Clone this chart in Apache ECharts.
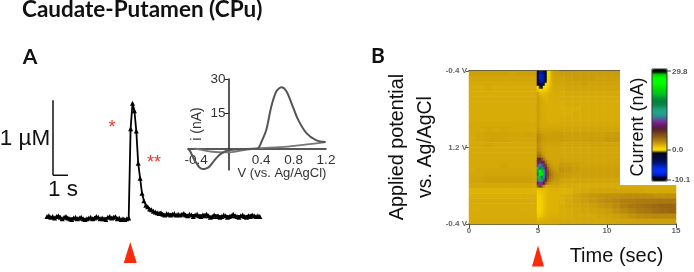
<!DOCTYPE html>
<html><head><meta charset="utf-8">
<style>html,body{margin:0;padding:0;background:#fff}#c{width:694px;height:272px}</style>
<script src="https://cdn.jsdelivr.net/npm/echarts@6/dist/echarts.min.js"></script>
</head><body><div id="c"></div>
<script>
// Panel A: amperometric trace, one sample every sampleStep seconds (µM)
const sampleStep = 0.1267;
const traceValues = [
 0.02,0.03,0.01,0.02,0.00,0.02,0.03,0.01,-0.01,0.01,0.02,0.00,-0.01,-0.02,0.00,0.01,-0.01,0.00,0.01,-0.01,
 -0.02,-0.01,0.00,0.01,-0.01,0.00,0.02,0.01,-0.01,0.00,-0.01,-0.02,0.01,0.02,0.00,0.01,0.02,-0.01,0.00,-0.02,
 -0.01,-0.02,-0.01,0.00,1.19,1.53,1.43,1.16,0.73,0.53,0.33,0.23,0.17,0.15,0.12,0.11,0.09,0.08,0.07,0.06,
 0.07,0.05,0.04,0.06,0.05,0.04,0.05,0.06,0.04,0.05,0.04,0.05,0.06,0.04,0.03,0.05,0.04,0.02,0.04,0.05,
 0.03,0.02,0.04,0.03,0.05,0.03,0.01,0.02,0.04,0.02,0.03,0.01,0.02,0.04,0.03,0.01,0.02,0.03,0.05,0.03,
 0.02,0.01,0.03,0.04,0.02,0.01,0.03,0.02,0.04,0.03,0.02,0.03,0.02
];
const scaleBarV = [[0.4,0.57],[0.4,1.57]];
const scaleBarH = [[0.4,0.57],[1.4,0.57]];
const stimA = [[5.55,-0.46]];
// Panel A inset: cyclic voltammogram (V, nA)
const cvMain = [[-0.5,0],[-0.47,-1.5],[-0.43,-4.4],[-0.4,-6.2],[-0.36,-8.2],[-0.318,-9],[-0.28,-8.8],[-0.235,-7.9],[-0.17,-5],[-0.11,-2.8],[-0.05,-1.4],[0,-0.8],[0.15,-0.4],[0.3,-0.2],[0.36,0],[0.41,3.2],[0.465,8],[0.527,18.2],[0.589,24.7],[0.65,26.4],[0.712,24.7],[0.774,19.6],[0.856,12.4],[0.959,6.6],[1.083,3.4],[1.194,2.7]];
const cvReturn = [[1.194,2.7],[0.92,1.5],[0.63,0.5],[0.36,0],[0.15,-1],[0,-1.8],[-0.2,-1.5],[-0.42,0]];
const cvXTicks = [-0.4,0.4,0.8,1.2];
const cvYTicks = [15,30];
// Panel B: colour plot (nA), rows top to bottom, 26 columns over 15 s
const plotBg = [
[2.6,2.6,2.6,2.6,2.6,2.5,2.6,2.6,2.6,2.5,2.6,2.7,2.7,2.7,2.7,2.7,2.7,2.7,2.7,2.7,2.6,2.6,2.6,2.6,2.6,2.6],
[2.4,2.4,2.4,2.4,2.4,2.4,2.4,2.4,2.4,2.4,2.4,2.5,2.6,2.7,2.7,2.7,2.6,2.6,2.6,2.6,2.5,2.5,2.5,2.5,2.5,2.5],
[2.3,2.3,2.3,2.3,2.3,2.3,2.3,2.3,2.3,2.3,2.3,2.4,2.5,2.5,2.6,2.5,2.5,2.5,2.5,2.5,2.5,2.5,2.5,2.5,2.5,2.5],
[2.2,2.2,2.3,2.2,2.2,2.2,2.2,2.2,2.2,2.2,2.2,2.3,2.4,2.4,2.4,2.4,2.4,2.4,2.4,2.4,2.4,2.4,2.4,2.4,2.4,2.4],
[2.2,2.2,2.2,2.2,2.2,2.2,2.2,2.2,2.2,2.2,2.2,2.2,2.3,2.3,2.3,2.3,2.3,2.3,2.3,2.3,2.3,2.3,2.3,2.3,2.3,2.3],
[2.2,2.2,2.2,2.2,2.2,2.2,2.2,2.2,2.2,2.1,2.1,2.2,2.2,2.2,2.2,2.2,2.2,2.2,2.2,2.2,2.2,2.2,2.2,2.2,2.2,2.2],
[2.2,2.2,2.2,2.2,2.2,2.2,2.2,2.2,2.2,2.1,2.1,2.1,2.2,2.2,2.2,2.2,2.2,2.2,2.2,2.2,2.2,2.2,2.2,2.2,2.2,2.2],
[2.2,2.2,2.2,2.2,2.2,2.2,2.2,2.2,2.2,2.1,2.1,2.1,2.1,2.1,2.2,2.2,2.2,2.2,2.2,2.2,2.2,2.2,2.2,2.2,2.2,2.2],
[2.2,2.2,2.2,2.2,2.2,2.2,2.2,2.2,2.2,2.2,2.1,2.1,2.1,2.2,2.2,2.2,2.2,2.2,2.2,2.2,2.2,2.2,2.2,2.2,2.2,2.2],
[2.2,2.2,2.2,2.2,2.2,2.2,2.2,2.2,2.2,2.2,2.2,2.2,2.2,2.2,2.2,2.2,2.2,2.2,2.2,2.2,2.2,2.2,2.2,2.2,2.2,2.2],
[2.3,2.3,2.3,2.3,2.3,2.3,2.3,2.3,2.3,2.3,2.3,2.3,2.3,2.3,2.3,2.3,2.3,2.3,2.3,2.3,2.3,2.3,2.3,2.3,2.3,2.3],
[2.3,2.3,2.4,2.3,2.4,2.3,2.3,2.3,2.3,2.4,2.4,2.4,2.4,2.4,2.4,2.4,2.4,2.4,2.4,2.4,2.4,2.5,2.5,2.5,2.5,2.5],
[2.3,2.4,2.5,2.5,2.5,2.4,2.4,2.5,2.4,2.6,2.6,2.7,2.6,2.6,2.6,2.6,2.6,2.7,2.7,2.8,2.8,2.8,2.8,2.8,2.8,2.8],
[2.3,2.4,2.5,2.5,2.5,2.4,2.4,2.4,2.4,2.6,2.6,2.7,2.6,2.6,2.6,2.7,2.7,2.8,2.8,2.9,2.9,2.9,2.8,2.8,2.8,2.8],
[2.3,2.3,2.4,2.3,2.3,2.3,2.3,2.3,2.3,2.4,2.4,2.5,2.5,2.5,2.5,2.5,2.5,2.5,2.5,2.6,2.6,2.6,2.6,2.6,2.6,2.6],
[2.3,2.3,2.3,2.3,2.3,2.3,2.3,2.3,2.3,2.4,2.4,2.4,2.4,2.4,2.4,2.4,2.4,2.4,2.4,2.4,2.4,2.4,2.4,2.4,2.4,2.4],
[2.3,2.3,2.3,2.3,2.3,2.3,2.3,2.3,2.3,2.4,2.4,2.4,2.4,2.4,2.4,2.4,2.4,2.4,2.4,2.4,2.4,2.4,2.4,2.4,2.4,2.4],
[2.3,2.3,2.3,2.3,2.3,2.3,2.3,2.3,2.3,2.5,2.5,2.5,2.4,2.4,2.4,2.4,2.4,2.4,2.4,2.4,2.4,2.4,2.4,2.4,2.4,2.4],
[2.3,2.3,2.3,2.3,2.4,2.3,2.3,2.3,2.3,2.9,2.9,2.8,2.7,2.6,2.5,2.5,2.5,2.5,2.5,2.5,2.5,2.5,2.5,2.5,2.5,2.5],
[2.3,2.4,2.4,2.4,2.4,2.4,2.4,2.4,2.3,3.1,3.1,3.1,2.9,2.7,2.6,2.6,2.6,2.6,2.6,2.6,2.6,2.6,2.6,2.6,2.6,2.6],
[2.4,2.4,2.5,2.5,2.5,2.5,2.5,2.5,2.4,2.8,2.8,2.8,2.7,2.6,2.6,2.6,2.6,2.6,2.6,2.6,2.6,2.6,2.6,2.6,2.6,2.6],
[2.5,2.5,2.6,2.6,2.6,2.6,2.6,2.6,2.5,2.5,2.5,2.5,2.4,2.4,2.4,2.4,2.4,2.4,2.4,2.4,2.4,2.4,2.4,2.4,2.4,2.4],
[2.3,2.3,2.3,2.3,2.3,2.3,2.3,2.3,2.2,2.2,2.2,2.2,2.2,2.2,2.2,2.2,2.2,2.2,2.2,2.2,2.2,2.2,2.2,2.2,2.2,2.2],
[2.0,2.0,2.0,2.0,2.0,2.0,2.0,2.0,1.9,1.9,2.0,2.0,2.0,2.2,2.3,2.4,2.4,2.4,2.4,2.4,2.4,2.4,2.3,2.3,2.3,2.3],
[2.1,2.1,2.1,2.1,2.1,2.1,2.1,2.1,2.1,2.0,2.0,2.1,2.2,2.5,2.7,2.9,3.0,3.1,3.1,3.2,3.2,3.2,3.2,3.1,3.1,3.1],
[2.2,2.2,2.2,2.2,2.2,2.2,2.2,2.2,2.2,2.0,2.1,2.1,2.3,2.5,2.7,2.9,3.1,3.3,3.5,3.7,3.8,3.9,3.9,4.0,4.0,4.0],
[2.2,2.2,2.2,2.2,2.2,2.2,2.2,2.2,2.2,2.0,2.1,2.2,2.3,2.4,2.5,2.6,2.8,3.0,3.3,3.7,4.0,4.2,4.4,4.6,4.7,4.8],
[2.2,2.2,2.2,2.2,2.2,2.2,2.2,2.2,2.2,2.1,2.1,2.2,2.2,2.3,2.4,2.5,2.6,2.7,3.0,3.3,3.6,3.9,4.1,4.4,4.6,4.7],
[2.2,2.2,2.2,2.2,2.2,2.2,2.2,2.2,2.2,2.1,2.2,2.2,2.2,2.3,2.3,2.3,2.4,2.5,2.6,2.8,3.0,3.2,3.3,3.4,3.4,3.4],
[2.3,2.3,2.3,2.3,2.3,2.3,2.3,2.3,2.3,2.2,2.2,2.3,2.3,2.3,2.3,2.3,2.3,2.4,2.4,2.5,2.5,2.6,2.6,2.6,2.6,2.6]
];
// Panel B: finer cells around the stimulus, 11 columns from about 4.93 s, rows top to bottom
const plotStim = [
[-2.5,-5,-5,-4,-2,0.4,1.2,2.2,2.5,2.6,2.6],
[-2.5,-5.5,-5.5,-4.5,-2,0.4,1.2,2.2,2.5,2.5,2.5],
[-2.5,-5.5,-5.5,-4.5,-2,0.4,1.2,2.1,2.4,2.5,2.5],
[-2,-5,-5.5,-4,-1,0.5,1.3,2.1,2.4,2.4,2.4],
[-1,-3,-4,-2,0.3,0.7,1.5,2.1,2.3,2.4,2.4],
[0.3,-0.6,-1,0.3,0.6,1.1,1.7,2.1,2.3,2.3,2.3],
[1.5,0.8,0.9,1.1,1.3,1.6,1.9,2.1,2.2,2.3,2.3],
[2.4,1.9,1.7,1.7,1.8,1.9,2.0,2.1,2.2,2.2,2.2],
[2.6,2.2,2.0,1.9,1.9,2.0,2.1,2.1,2.2,2.2,2.2],
[2.7,2.4,2.2,2.0,2.0,2.0,2.1,2.1,2.2,2.2,2.2],
[2.7,2.4,2.3,2.1,2.0,2.0,2.1,2.1,2.1,2.2,2.2],
[2.7,2.4,2.3,2.1,2.1,2.1,2.1,2.1,2.1,2.1,2.2],
[2.7,2.4,2.3,2.2,2.1,2.1,2.1,2.1,2.1,2.1,2.1],
[2.7,2.4,2.3,2.2,2.1,2.1,2.1,2.1,2.1,2.1,2.1],
[2.7,2.4,2.3,2.2,2.1,2.1,2.1,2.1,2.1,2.1,2.1],
[2.7,2.4,2.3,2.2,2.1,2.1,2.1,2.1,2.1,2.1,2.1],
[2.7,2.4,2.3,2.2,2.2,2.1,2.1,2.1,2.1,2.1,2.1],
[2.7,2.4,2.3,2.3,2.2,2.2,2.2,2.2,2.2,2.2,2.2],
[2.7,2.5,2.4,2.3,2.3,2.3,2.3,2.3,2.3,2.3,2.3],
[2.8,2.6,2.4,2.4,2.4,2.4,2.4,2.4,2.4,2.4,2.4],
[3.0,2.8,2.6,2.5,2.5,2.5,2.5,2.5,2.6,2.6,2.6],
[3.3,3.1,2.8,2.7,2.6,2.6,2.7,2.7,2.7,2.7,2.7],
[3.5,3.2,2.9,2.8,2.7,2.7,2.7,2.7,2.7,2.7,2.7],
[3.5,3.1,2.8,2.7,2.6,2.6,2.6,2.6,2.6,2.6,2.6],
[3.3,2.9,2.7,2.6,2.5,2.5,2.5,2.5,2.5,2.5,2.5],
[3.3,2.9,2.6,2.5,2.4,2.4,2.4,2.4,2.4,2.4,2.4],
[3.5,3.1,2.8,2.5,2.4,2.4,2.4,2.4,2.4,2.4,2.4],
[3.9,3.6,3.0,2.6,2.5,2.4,2.4,2.4,2.4,2.4,2.4],
[4.6,4.4,3.6,2.9,2.5,2.4,2.4,2.4,2.4,2.4,2.4],
[7.5,7.5,6,4,2.9,2.5,2.4,2.4,2.4,2.4,2.4],
[9.5,10,9.5,7,4,2.9,2.6,2.5,2.4,2.4,2.4],
[11,12.5,11.5,10,6.5,3.7,3.0,2.7,2.5,2.5,2.5],
[14,19,16,11.5,8.5,4.8,3.5,3.0,2.7,2.6,2.6],
[16,26,22,14,10,6,4.1,3.4,3.0,2.8,2.7],
[17,27,23,14,10,6.3,4.4,3.6,3.2,3.0,2.9],
[15,22,18,13,9.5,5.8,4.2,3.5,3.2,3.0,2.9],
[12,15,13,11,8,4.8,3.7,3.2,2.9,2.8,2.8],
[9.5,11,10.5,8.5,5,3.4,2.9,2.7,2.6,2.6,2.6],
[5,6.5,5.5,3.4,2.3,2.2,2.2,2.3,2.3,2.3,2.4],
[1.6,1.6,1.7,1.7,1.8,1.9,2.0,2.1,2.1,2.1,2.1],
[1.3,1.3,1.4,1.6,1.8,1.9,2.0,2.0,2.0,2.0,2.0],
[1.1,1.1,1.3,1.5,1.7,1.9,2.0,2.0,2.0,2.0,2.0],
[1.0,1.0,1.2,1.5,1.7,1.9,2.0,2.0,2.0,2.0,2.0],
[0.9,0.9,1.1,1.5,1.7,1.9,2.0,2.0,2.0,2.0,2.0],
[0.9,0.9,1.1,1.5,1.8,1.9,2.0,2.0,2.0,2.0,2.0],
[0.9,0.9,1.1,1.5,1.8,1.9,2.0,2.0,2.0,2.0,2.0],
[1.0,1.0,1.2,1.6,1.8,1.9,2.0,2.0,2.0,2.0,2.0],
[1.1,1.1,1.3,1.6,1.8,2.0,2.0,2.0,2.0,2.0,2.0],
[1.3,1.3,1.5,1.8,1.9,2.0,2.0,2.1,2.1,2.1,2.1],
[1.8,1.8,1.9,2.0,2.1,2.1,2.1,2.2,2.2,2.2,2.2],
[2.1,2.1,2.2,2.2,2.2,2.2,2.2,2.2,2.2,2.2,2.2]
];
const potentialLabels = ['-0.4 V','1.2 V','-0.4 V'];
const timeTicks = [0,5,10,15];
const stimB = [[5,0.5]];
const barLabels = ['29.8','0.0','-10.1'];
const barRange = [-11,29.8];
const barColors = ['#000000','#000010','#0018c0','#0030f0','#0030ff','#0028d8','#001a90','#001060','#000a40','#000830','#000820',
 '#ffe000','#f0cc00','#d6aa08','#bb8c0c','#a37010','#8c5a12','#75441a','#602c22','#561c40','#6a1a70','#7c2494','#5a5498','#308890',
 '#20a088','#20a884','#189a70','#0c8850','#008040','#008838','#00a030','#00c020','#00d010','#00e000','#00f000','#00ff00','#00ff00',
 '#00f800','#00d000','#001000','#000000'];

const SANS = '"Liberation Sans",Arial,sans-serif';
const cells = rows => rows.flatMap((r,y)=>r.map((v,x)=>[x,y,v]));
const idx = n => Array.from({length:n},(_,i)=>i);
const off = {show:false};
const heatAxisX = (g,n)=>({type:'category',gridIndex:g,data:idx(n),show:false});
const heatAxisY = (g,n)=>({type:'category',gridIndex:g,data:idx(n),inverse:true,show:false});
const txt = (text,x,y,font,extra={})=>({type:'text',x,y,z:30,rotation:extra.rotation||0,
  style:{text,font,fill:extra.fill||'#111',align:extra.align||'center',verticalAlign:'middle'}});

const chart = echarts.init(document.getElementById('c'),null,{renderer:'canvas'});
chart.setOption({
 animation:false,backgroundColor:'#fff',
 grid:[
  {left:47,top:96,width:214,height:172},
  {left:188,top:79,width:138,height:91},
  {left:469,top:71,width:207,height:153},
  {left:537,top:71,width:22,height:153},
  {left:469,top:71,width:207,height:153},
  {left:469,top:244,width:207,height:24}
 ],
 xAxis:[
  {type:'value',gridIndex:0,min:0,max:14.27,show:false},
  {type:'value',gridIndex:1,min:-0.5,max:1.2,position:'bottom',offset:-21.5,axisLine:{onZero:false,lineStyle:{color:'#222',width:1.5}},axisTick:off,splitLine:off,
   axisLabel:{customValues:cvXTicks,margin:5,color:'#333',fontFamily:SANS,fontSize:13.5,hideOverlap:false,showMinLabel:true,showMaxLabel:true}},
  heatAxisX(2,26),heatAxisX(3,11),
  {type:'value',gridIndex:4,min:0,max:15,interval:5,splitLine:off,
   axisLine:{lineStyle:{color:'#222',width:1.5}},axisTick:{length:4,lineStyle:{color:'#444'}},
   axisLabel:{color:'#666',fontFamily:SANS,fontSize:8,fontWeight:'bold',margin:3}},
  {type:'value',gridIndex:4,min:0,max:15,position:'top',splitLine:off,axisTick:off,axisLabel:off,axisLine:{lineStyle:{color:'#111',width:1.5}}},
  {type:'value',gridIndex:5,min:0,max:15,show:false}
 ],
 yAxis:[
  {type:'value',gridIndex:0,min:-0.667,max:1.627,show:false},
  {type:'value',gridIndex:1,min:-9.4,max:30,position:'left',offset:-40.5,splitLine:off,axisLine:{onZero:false,lineStyle:{color:'#222',width:1.5}},
   axisTick:{customValues:cvYTicks,length:4,lineStyle:{color:'#222'}},
   axisLabel:{customValues:cvYTicks,margin:3,color:'#333',fontFamily:SANS,fontSize:13.5}},
  heatAxisY(2,plotBg.length),heatAxisY(3,plotStim.length),
  {type:'value',gridIndex:4,min:0,max:2,interval:1,splitLine:off,
   axisLine:{lineStyle:{color:'#666',width:1}},axisTick:{length:3,lineStyle:{color:'#555'}},
   axisLabel:{color:'#666',fontFamily:SANS,fontSize:8,fontWeight:'bold',margin:2,formatter:(v)=>potentialLabels[v]}},
  {type:'value',gridIndex:5,min:0,max:1,show:false}
 ],
 visualMap:{type:'continuous',seriesIndex:[6,7],min:barRange[0],max:barRange[1],left:652,top:69,itemWidth:15,itemHeight:112,
  text:null,showLabel:false,calculable:false,padding:0,z:20,inRange:{color:barColors},textStyle:{fontSize:0},formatter:()=>''},
 series:[
  {type:'line',xAxisIndex:0,yAxisIndex:0,data:traceValues.map((v,i)=>[i*sampleStep,v]),symbol:'triangle',symbolSize:5,showSymbol:true,showAllSymbol:true,
   lineStyle:{color:'#000',width:1.8},itemStyle:{color:'#000'}},
  {type:'line',xAxisIndex:0,yAxisIndex:0,data:scaleBarV,symbol:'none',lineStyle:{color:'#111',width:1.5}},
  {type:'line',xAxisIndex:0,yAxisIndex:0,data:scaleBarH,symbol:'none',lineStyle:{color:'#111',width:1.5}},
  {type:'scatter',xAxisIndex:0,yAxisIndex:0,data:stimA,symbol:'triangle',symbolSize:[13,21],itemStyle:{color:'#fb2a08',opacity:1}},
  {type:'line',xAxisIndex:1,yAxisIndex:1,data:cvReturn,symbol:'none',smooth:0.3,lineStyle:{color:'#777',width:1.8},z:3},
  {type:'line',xAxisIndex:1,yAxisIndex:1,data:cvMain,symbol:'none',smooth:0.3,lineStyle:{color:'#555',width:2},z:4},
  {type:'heatmap',xAxisIndex:2,yAxisIndex:2,data:cells(plotBg),progressive:0,itemStyle:{borderWidth:0},z:1},
  {type:'heatmap',xAxisIndex:3,yAxisIndex:3,data:cells(plotStim),progressive:0,itemStyle:{borderWidth:0},z:2},
  {type:'scatter',xAxisIndex:6,yAxisIndex:5,data:stimB,symbol:'triangle',symbolSize:[12,21],itemStyle:{color:'#fb2a08',opacity:1}},
 ],
 graphic:{elements:[
  {type:'rect',shape:{x:620,y:60,width:74,height:125},style:{fill:'#fff'},z:10},
  {type:'rect',shape:{x:652,y:69,width:15,height:112},style:{fill:'none',stroke:'#333',lineWidth:1},z:25},
  {type:'line',shape:{x1:667,y1:71,x2:671,y2:71},style:{stroke:'#444'},z:25},
  {type:'line',shape:{x1:667,y1:150,x2:671,y2:150},style:{stroke:'#444'},z:25},
  {type:'line',shape:{x1:667,y1:180,x2:671,y2:180},style:{stroke:'#444'},z:25},
  txt(barLabels[0],672,72,'bold 8px '+SANS,{align:'left',fill:'#555'}),
  txt(barLabels[1],672,150,'bold 8px '+SANS,{align:'left',fill:'#555'}),
  txt(barLabels[2],672,180,'bold 8px '+SANS,{align:'left',fill:'#555'}),
  txt('Caudate-Putamen (CPu)',22,10,'bold 22.5px Lato,"Open Sans",sans-serif',{align:'left',fill:'#111'}),
  txt('A',30,57,'bold 21px Lato,"Open Sans",sans-serif'),
  txt('B',378,56,'bold 21px Lato,"Open Sans",sans-serif'),
  txt('1 µM',25,139,'22.5px '+SANS),
  txt('1 s',63,190,'22.5px '+SANS),
  txt('*',112,128,'18px '+SANS,{fill:'#e8352a'}),
  txt('**',154,163,'18px '+SANS,{fill:'#e8352a'}),
  txt('V (vs. Ag/AgCl)',282,173,'13px '+SANS,{fill:'#333'}),
  txt('i (nA)',197,124,'14px '+SANS,{fill:'#333',rotation:Math.PI/2}),
  txt('Applied potential',398,147,'19.8px '+SANS,{rotation:Math.PI/2}),
  txt('vs. Ag/AgCl',426,147,'19.5px '+SANS,{rotation:Math.PI/2}),
  txt('Current (nA)',638,127,'18px '+SANS,{rotation:Math.PI/2}),
  txt('Time (sec)',616.5,256,'20px '+SANS)
 ]}
});
</script></body></html>
